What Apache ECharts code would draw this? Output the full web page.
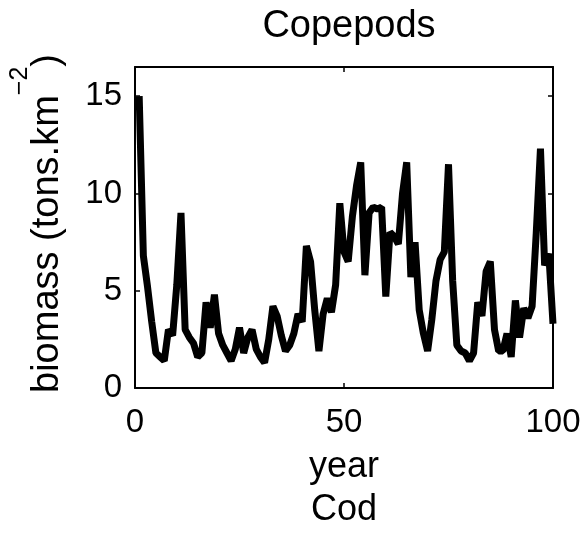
<!DOCTYPE html>
<html>
<head>
<meta charset="utf-8">
<script src="https://cdn.jsdelivr.net/npm/echarts@6/dist/echarts.min.js"></script>
<style>
  html, body { margin: 0; padding: 0; background: #fff; }
  #chart { width: 585px; height: 538px; }
</style>
</head>
<body>
<div id="chart"></div>
<script>
const chart = echarts.init(document.getElementById('chart'));

// copepod biomass, one value per year (years 1..100)
const biomass = [
  15.0, 6.8, 5.2, 3.4, 1.8, 1.6, 1.4, 3.0, 2.7, 5.3,
  9.0, 3.0, 2.6, 2.3, 1.6, 1.8, 4.4, 3.1, 4.8, 2.8,
  2.2, 1.8, 1.4, 2.0, 3.1, 1.8, 2.6, 3.0, 2.0, 1.6,
  1.3, 2.5, 4.2, 3.7, 2.7, 1.9, 2.2, 2.8, 3.8, 3.4,
  7.3, 6.5, 4.0, 1.9, 3.8, 4.6, 3.9, 5.3, 9.5, 7.0,
  6.5, 8.8, 10.4, 11.6, 5.8, 9.0, 9.3, 9.2, 9.3, 4.7,
  8.0, 7.8, 7.4, 10.0, 11.6, 5.7, 7.5, 4.0, 2.8, 1.9,
  3.5, 5.5, 6.6, 7.0, 11.5, 5.5, 2.2, 1.9, 1.8, 1.4,
  1.8, 4.4, 3.7, 6.0, 6.5, 3.0, 1.9, 1.9, 2.8, 1.6,
  4.5, 2.6, 4.1, 3.6, 4.2, 8.0, 12.3, 6.3, 6.9, 3.3
];
const years = biomass.map((v, i) => i + 1);

const font = "'Liberation Sans', Arial, Helvetica, sans-serif";

const tick = { show: true, inside: true, length: 5, lineStyle: { color: '#000', width: 1.5 } };
const frame = { show: true, onZero: false, lineStyle: { color: '#000', width: 2 } };

const option = {
  animation: false,
  backgroundColor: '#fff',
  title: {
    text: 'Copepods',
    left: 344,
    textAlign: 'center',
    top: 3,
    textStyle: { fontFamily: font, fontSize: 38, fontWeight: 'normal', color: '#000' },
  },
  grid: {
    left: 135,
    right: 32,
    top: 67,
    bottom: 150,
    outerBoundsMode: 'none',
  },
  xAxis: [
    {
      type: 'value',
      position: 'bottom',
      min: 0,
      max: 100,
      interval: 50,
      name: 'year\nCod',
      nameLocation: 'middle',
      nameGap: 58,
      nameTextStyle: { fontFamily: font, fontSize: 36, color: '#000', lineHeight: 43 },
      axisLine: frame,
      axisTick: tick,
      splitLine: { show: false },
      axisLabel: { fontFamily: font, fontSize: 33, color: '#000', margin: 18 },
    },
    {
      type: 'value',
      position: 'top',
      min: 0,
      max: 100,
      interval: 50,
      axisLine: frame,
      axisTick: tick,
      splitLine: { show: false },
      axisLabel: { show: false },
    },
  ],
  yAxis: [
    {
      type: 'value',
      position: 'left',
      min: 0,
      max: 16.5,
      interval: 5,
      name: '{m|biomass (tons.km}{sup|\u22122}{m|)}',
      nameLocation: 'middle',
      nameRotate: 90,
      nameGap: 68,
      nameTextStyle: {
        fontFamily: font,
        color: '#000',
        padding: [0, 0, 0, 8],
        rich: {
          m: { fontFamily: font, fontSize: 38, color: '#000', verticalAlign: 'bottom' },
          sup: { fontFamily: font, fontSize: 25, color: '#000', verticalAlign: 'top', padding: [0, 0, 34, 0] },
        },
      },
      axisLine: frame,
      axisTick: tick,
      splitLine: { show: false },
      axisLabel: { fontFamily: font, fontSize: 33, color: '#000', margin: 13, showMaxLabel: false },
    },
    {
      type: 'value',
      position: 'right',
      min: 0,
      max: 16.5,
      interval: 5,
      axisLine: frame,
      axisTick: tick,
      splitLine: { show: false },
      axisLabel: { show: false },
    },
  ],
  series: [
    {
      type: 'line',
      data: years.map((y, i) => [y, biomass[i]]),
      showSymbol: false,
      lineStyle: { color: '#000', width: 7 },
      clip: true,
    },
  ],
};

chart.setOption(option);
</script>
</body>
</html>
